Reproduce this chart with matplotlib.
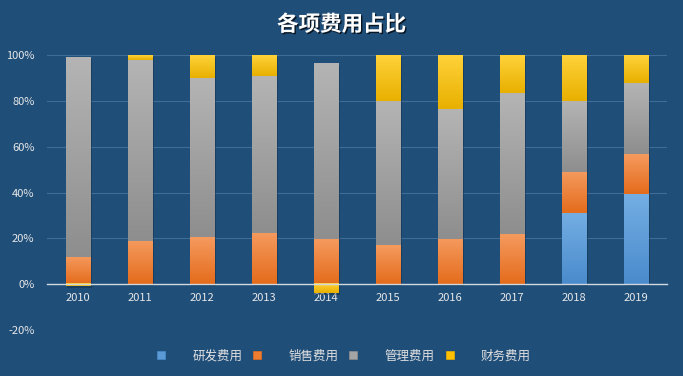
import matplotlib
matplotlib.use("Agg")
import matplotlib.pyplot as plt
import matplotlib.patheffects as pe
from matplotlib.colors import LinearSegmentedColormap
from matplotlib.lines import Line2D
import numpy as np

plt.rcParams['font.family'] = ['Noto Sans CJK SC', 'DejaVu Sans']

years = ['2010', '2011', '2012', '2013', '2014', '2015', '2016', '2017', '2018', '2019']
series_names = ['研发费用', '销售费用', '管理费用', '财务费用']
rd = [0, 0, 0, 0, 0, 0, 0, 0, 31.0, 39.5]
sales = [12.0, 19.0, 20.5, 22.3, 19.5, 17.0, 19.8, 21.8, 18.0, 17.4]
admin = [87.0, 79.0, 69.5, 68.7, 76.5, 63.0, 56.7, 61.7, 31.0, 31.1]
finance = [-1.0, 2.0, 10.0, 9.0, -4.0, 20.0, 23.5, 16.5, 20.0, 12.0]

base_colors = ['#5B9BD5', '#ED7D31', '#A5A5A5', '#FFC000']
grad_top = ['#74AEE3', '#F59A5E', '#B4B4B4', '#FFD23A']
grad_bot = ['#4A8BCD', '#E46C1C', '#8E8E8E', '#E8B000']
bg = '#1F4E79'

fig = plt.figure(figsize=(6.83, 3.76), dpi=100, facecolor=bg)
ax = fig.add_axes([0.0688, 0.1223, 0.9078, 0.7314], facecolor=bg)

x = np.arange(len(years))
width = 0.4
data = [np.array(rd) / 100, np.array(sales) / 100, np.array(admin) / 100, np.array(finance) / 100]

pos_bottom = np.zeros(len(years))
neg_bottom = np.zeros(len(years))
for k, vals in enumerate(data):
    bottoms = np.where(vals >= 0, pos_bottom, neg_bottom)
    bars = ax.bar(x, vals, width, bottom=bottoms, color=base_colors[k], zorder=3,
                  linewidth=0)
    cmap = LinearSegmentedColormap.from_list('g%d' % k, [grad_bot[k], grad_top[k]])
    grad = np.linspace(0, 1, 64).reshape(-1, 1)
    for b, v in zip(bars, vals):
        if v == 0:
            continue
        b.set_path_effects([pe.SimplePatchShadow(offset=(1.2, -1.2), shadow_rgbFace='#0B2238', alpha=0.35),
                            pe.Normal()])
        y0 = b.get_y()
        y1 = y0 + b.get_height()
        lo, hi = min(y0, y1), max(y0, y1)
        ax.imshow(grad, cmap=cmap, origin='lower', aspect='auto',
                  extent=(b.get_x(), b.get_x() + b.get_width(), lo, hi), zorder=4)
    pos_bottom = pos_bottom + np.where(vals >= 0, vals, 0)
    neg_bottom = neg_bottom + np.where(vals < 0, vals, 0)

ax.set_xlim(-0.5, len(years) - 0.5)
ax.set_ylim(-0.2, 1.0)
yt = [-0.2, 0, 0.2, 0.4, 0.6, 0.8, 1.0]
ax.set_yticks(yt)
ax.set_yticklabels(['%d%%' % round(v * 100) for v in yt])
ax.set_xticks(x)
ax.set_xticklabels(years)
ax.grid(axis='y', color='#3F6D97', linewidth=0.8, zorder=0)
ax.set_axisbelow(True)
for s in ['top', 'right', 'left']:
    ax.spines[s].set_visible(False)
ax.spines['bottom'].set_position(('data', 0))
ax.spines['bottom'].set_color('#D0D8E0')
ax.spines['bottom'].set_linewidth(1.0)
ax.spines['bottom'].set_zorder(5)
ax.tick_params(axis='both', length=0, colors='#E8E8E8', labelsize=8)
ax.tick_params(axis='x', pad=6)
ax.tick_params(axis='y', pad=9)

fig.text(0.5, 0.935, '各项费用占比', ha='center', va='center', color='white',
         fontsize=15.5, fontweight='bold',
         path_effects=[pe.withSimplePatchShadow(offset=(1, -1), shadow_rgbFace='black', alpha=0.7)])

handles = [Line2D([], [], marker='s', linestyle='none', markersize=5.5,
                  markerfacecolor=base_colors[k], markeredgecolor=grad_bot[k], markeredgewidth=0.5)
           for k in range(4)]
leg = fig.legend(handles, series_names, loc='center', bbox_to_anchor=(0.502, 0.053), ncol=4,
                 frameon=False, fontsize=9, handletextpad=2.0, columnspacing=0.7,
                 handlelength=1.0)
for t in leg.get_texts():
    t.set_color('#E0E0E0')

fig.savefig('out.png', dpi=100, facecolor=bg)
